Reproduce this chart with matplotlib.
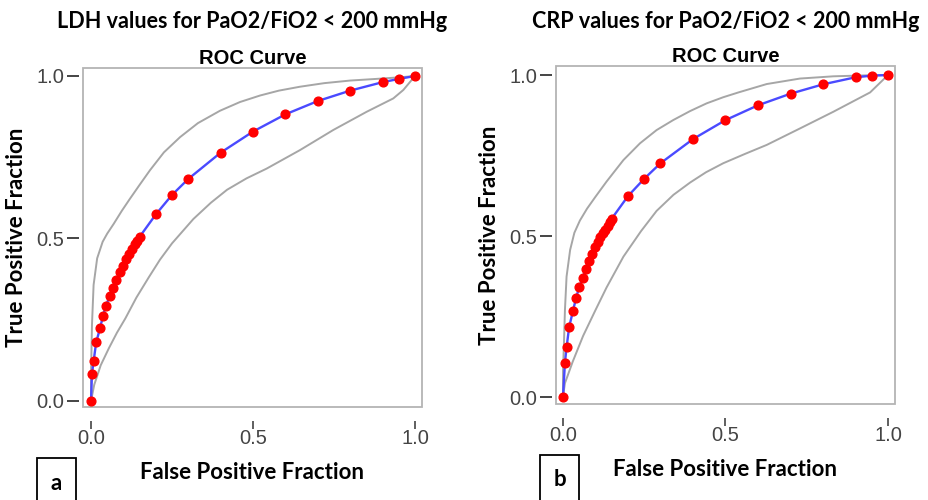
import matplotlib.pyplot as plt
from matplotlib.patches import Rectangle

# === data ===
ldh_fpr = [0.0, 0.003, 0.008, 0.016, 0.028, 0.037, 0.046, 0.058, 0.068, 0.078, 0.089,
           0.099, 0.108, 0.117, 0.127, 0.135, 0.143, 0.15, 0.2, 0.25, 0.3, 0.4, 0.5,
           0.6, 0.7, 0.8, 0.9, 0.95, 1.0]
ldh_tpr = [0.0, 0.083, 0.122, 0.181, 0.224, 0.262, 0.293, 0.323, 0.349, 0.372, 0.396,
           0.416, 0.436, 0.452, 0.468, 0.482, 0.493, 0.505, 0.574, 0.634, 0.683, 0.764, 0.829,
           0.882, 0.923, 0.955, 0.981, 0.991, 1.0]
ldh_upper_x = [0.0, 0.0, 0.003, 0.008, 0.019, 0.036, 0.05, 0.07, 0.095, 0.12, 0.15, 0.182,
               0.225, 0.275, 0.33, 0.398, 0.46, 0.522, 0.58, 0.645, 0.72, 0.8, 0.88, 0.954, 1.0]
ldh_upper_y = [0.0, 0.08, 0.234, 0.357, 0.439, 0.49, 0.515, 0.545, 0.585, 0.622, 0.665, 0.71,
               0.765, 0.812, 0.855, 0.893, 0.92, 0.94, 0.955, 0.967, 0.978, 0.986, 0.991, 0.996, 1.0]
ldh_lower_x = [0.0, 0.01, 0.03, 0.055, 0.08, 0.106, 0.14, 0.178, 0.213, 0.25, 0.316, 0.37,
               0.42, 0.48, 0.542, 0.645, 0.748, 0.851, 0.933, 0.964, 1.0]
ldh_lower_y = [0.0, 0.05, 0.11, 0.162, 0.21, 0.254, 0.318, 0.38, 0.435, 0.485, 0.56, 0.61,
               0.65, 0.685, 0.715, 0.772, 0.834, 0.89, 0.931, 0.957, 1.0]

crp_fpr = [0.0, 0.006, 0.011, 0.019, 0.031, 0.04, 0.05, 0.061, 0.07, 0.079, 0.089, 0.098,
           0.107, 0.114, 0.122, 0.129, 0.137, 0.145, 0.15, 0.2, 0.25, 0.3, 0.4, 0.5, 0.6,
           0.7, 0.8, 0.9, 0.95, 1.0]
crp_tpr = [0.0, 0.107, 0.154, 0.218, 0.268, 0.307, 0.341, 0.371, 0.398, 0.421, 0.444, 0.467,
           0.482, 0.496, 0.508, 0.52, 0.532, 0.543, 0.554, 0.624, 0.678, 0.726, 0.801, 0.86, 0.906,
           0.942, 0.971, 0.993, 0.998, 1.0]
crp_upper_x = [0.0, 0.0, 0.003, 0.006, 0.011, 0.022, 0.035, 0.052, 0.074, 0.1, 0.134, 0.186,
               0.237, 0.288, 0.339, 0.391, 0.442, 0.493, 0.54, 0.627, 0.729, 0.832, 0.935, 1.0]
crp_upper_y = [0.0, 0.08, 0.167, 0.27, 0.374, 0.457, 0.51, 0.548, 0.585, 0.622, 0.669, 0.736,
               0.788, 0.829, 0.86, 0.888, 0.912, 0.931, 0.946, 0.972, 0.989, 0.996, 0.999, 1.0]
crp_lower_x = [0.0, 0.006, 0.03, 0.062, 0.1, 0.134, 0.186, 0.24, 0.288, 0.34, 0.391, 0.44,
               0.493, 0.56, 0.627, 0.729, 0.832, 0.945, 1.0]
crp_lower_y = [0.0, 0.043, 0.11, 0.19, 0.27, 0.34, 0.436, 0.515, 0.578, 0.628, 0.666, 0.698,
               0.726, 0.755, 0.783, 0.834, 0.886, 0.946, 1.0]

ticks = [0.0, 0.5, 1.0]
tick_labels = ['0.0', '0.5', '1.0']

BOLD_FONT = 'Lato'

fig = plt.figure(figsize=(9.29, 5), dpi=100)


def draw_panel(rect, xlim, ylim, fpr, tpr, ux, uy, lx, ly, title, letter, letter_box):
    ax = fig.add_axes(rect)
    ax.set_xlim(*xlim)
    ax.set_ylim(*ylim)

    ax.plot(ux, uy, color='#a6a6a6', lw=1.4)
    ax.plot(lx, ly, color='#a6a6a6', lw=1.4)
    ax.plot(fpr, tpr, color='#4a4aff', lw=1.7, marker='o', ms=6.3,
            mfc='#ff0000', mec='#ff0000', zorder=3, clip_on=False)

    # frame drawn separately so that the tick marks can sit apart from it
    for s in ax.spines.values():
        s.set_visible(False)
    ax.spines['left'].set_position(('outward', 3))
    ax.spines['bottom'].set_position(('outward', 10))
    ax.add_patch(Rectangle((0, 0), 1, 1, transform=ax.transAxes, fill=False,
                           ec='#b4b4b4', lw=1.3, clip_on=False))

    ax.set_xticks(ticks)
    ax.set_xticklabels(tick_labels)
    ax.set_yticks(ticks)
    ax.set_yticklabels(tick_labels)
    ax.tick_params(axis='y', direction='out', length=8.5, width=1.4, color='#444444',
                   labelsize=14.5, labelcolor='#444444', pad=2)
    ax.tick_params(axis='x', direction='out', length=6, width=1.2, color='#444444',
                   labelsize=14.5, labelcolor='#444444', pad=0)
    for lab in ax.get_xticklabels() + ax.get_yticklabels():
        lab.set_family('Liberation Sans')

    ax.set_title('ROC Curve', fontsize=14.5, fontweight='bold', family='Liberation Sans', pad=3)
    ax.set_xlabel('False Positive Fraction', fontsize=16, fontweight='bold', family=BOLD_FONT, labelpad=10)
    ax.set_ylabel('True Positive Fraction', fontsize=16, fontweight='bold', family=BOLD_FONT, labelpad=7)

    pos = ax.get_position()
    fig.text(pos.x0 + pos.width / 2, 1 - 22 / 500, title, ha='center', va='center',
             fontsize=15.5, fontweight='bold', family=BOLD_FONT)

    bx, by, bw, bh = letter_box
    fig.add_artist(Rectangle((bx / 929, 1 - (by + bh) / 500), bw / 929, bh / 500,
                             transform=fig.transFigure, fill=False, ec='black', lw=1.3))
    fig.text((bx + bw / 2) / 929, 1 - (by + 25) / 500, letter, ha='center', va='center',
             fontsize=16, fontweight='bold', family=BOLD_FONT)
    return ax


draw_panel([83 / 929, 1 - 407 / 500, 339 / 929, 339 / 500], (-0.0247, 1.0216), (-0.0185, 1.0246),
           ldh_fpr, ldh_tpr, ldh_upper_x, ldh_upper_y, ldh_lower_x, ldh_lower_y,
           'LDH values for PaO2/FiO2 < 200 mmHg', 'a', (37, 458, 39, 50))
draw_panel([556 / 929, 1 - 404 / 500, 339 / 929, 338 / 500], (-0.0215, 1.0215), (-0.0217, 1.028),
           crp_fpr, crp_tpr, crp_upper_x, crp_upper_y, crp_lower_x, crp_lower_y,
           'CRP values for PaO2/FiO2 < 200 mmHg', 'b', (540, 455, 39, 50))

fig.savefig('out.png', dpi=100)
